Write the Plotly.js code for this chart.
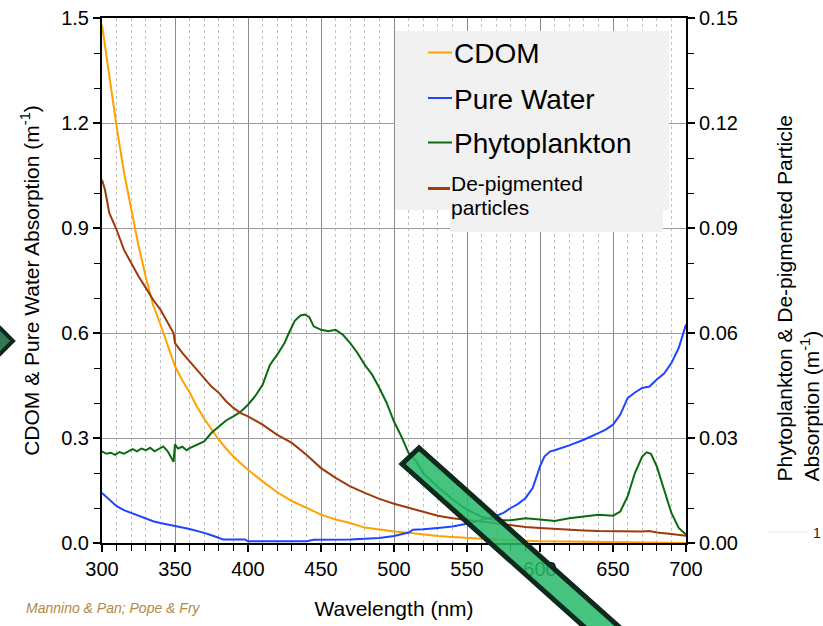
<!DOCTYPE html>
<html>
<head>
<meta charset="utf-8">
<script src="https://cdn.plot.ly/plotly-3.0.1.min.js"></script>
<style>html,body{margin:0;padding:0;background:#fff;}#chart{width:823px;height:626px;}</style>
</head>
<body>
<div id="chart"></div>
<script>
// ---- Data ----
const seriesNames = ['CDOM', 'Pure Water', 'Phytoplankton', 'De-pigmented particles'];

const cdomWl = [300,305,310,315,320,325,330,335,340,345,350,355,360,365,370,375,380,385,390,395,400,410,420,430,440,450,460,470,480,490,500,510,520,530,540,550,560,570,580,590,600,620,640,660,680,700];
const cdomVal = [1.48,1.33,1.19,1.06,0.95,0.85,0.76,0.68,0.625,0.565,0.505,0.465,0.43,0.39,0.355,0.325,0.295,0.27,0.247,0.228,0.209,0.176,0.145,0.12,0.1,0.081,0.067,0.057,0.044,0.038,0.033,0.029,0.024,0.02,0.017,0.014,0.012,0.01,0.008,0.006,0.005,0.004,0.003,0.002,0.001,0.0];

const waterWl = [300,305,310,315,320,325,330,335,340,345,350,355,360,365,370,375,380,383,390,398,400,410,420,430,440,445,450,460,470,480,490,500,505,510,513,520,530,540,550,555,560,565,570,575,580,585,590,595,600,603,607,610,620,630,640,645,650,655,660,665,670,675,680,685,690,695,700];
const waterVal = [0.143,0.125,0.105,0.094,0.086,0.077,0.069,0.062,0.057,0.052,0.048,0.044,0.040,0.035,0.029,0.022,0.014,0.010,0.010,0.010,0.005,0.005,0.005,0.005,0.005,0.009,0.009,0.009,0.010,0.012,0.014,0.020,0.024,0.030,0.038,0.039,0.043,0.047,0.055,0.060,0.066,0.071,0.078,0.086,0.100,0.112,0.128,0.157,0.219,0.247,0.262,0.265,0.279,0.295,0.314,0.324,0.338,0.367,0.414,0.430,0.443,0.447,0.467,0.484,0.514,0.557,0.624];

const phytoWl = [300,303,306,309,312,315,318,321,324,327,330,333,336,339,342,345,347,349,350,352,355,358,360,365,370,375,380,385,390,395,400,405,410,415,420,425,428,432,436,439,442,445,450,455,460,465,470,475,480,485,490,495,500,505,510,515,520,530,540,550,560,570,580,590,600,610,620,630,640,650,655,660,665,670,673,676,680,685,690,695,700];
const phytoVal = [0.0262,0.0255,0.0258,0.0252,0.026,0.0255,0.0262,0.0268,0.0262,0.027,0.0265,0.0272,0.0262,0.027,0.0276,0.0262,0.0248,0.0232,0.0282,0.027,0.0275,0.0265,0.0271,0.028,0.029,0.0315,0.0333,0.035,0.0362,0.0375,0.0395,0.042,0.0452,0.0509,0.0538,0.0571,0.06,0.0635,0.065,0.0653,0.0645,0.0619,0.0609,0.0605,0.0609,0.0595,0.0571,0.0543,0.0509,0.0481,0.0443,0.04,0.0347,0.0305,0.0257,0.0235,0.02,0.016,0.0125,0.0095,0.0075,0.0065,0.0065,0.0071,0.0067,0.0063,0.0071,0.0076,0.0081,0.0078,0.009,0.0133,0.02,0.0247,0.0259,0.0255,0.0219,0.0152,0.0086,0.0043,0.0024];

const depigWl = [300,302,305,310,315,320,325,330,335,340,345,349,350,355,360,365,370,375,380,385,390,395,400,410,420,430,440,450,460,470,480,490,500,510,520,530,540,550,560,570,580,590,600,610,620,630,640,650,660,670,675,680,690,700];
const depigVal = [0.1038,0.101,0.0943,0.0895,0.0838,0.08,0.0762,0.0729,0.0695,0.0667,0.0629,0.06,0.0571,0.0543,0.0519,0.0495,0.0471,0.0447,0.0429,0.0405,0.0386,0.0371,0.0362,0.0338,0.0309,0.0286,0.0252,0.0214,0.0186,0.0162,0.0143,0.0126,0.0112,0.01,0.0088,0.0078,0.0071,0.0066,0.006,0.0055,0.0049,0.0046,0.0043,0.004,0.0038,0.0036,0.0034,0.0033,0.0032,0.0033,0.0034,0.003,0.0026,0.0021];

const leftTicks = [0, 0.3, 0.6, 0.9, 1.2, 1.5];
const rightTicks = [0, 0.03, 0.06, 0.09, 0.12, 0.15];
const xTicks = [300, 350, 400, 450, 500, 550, 600, 650, 700];

// ---- Styling ----
const colors = ['#ffa200', '#1f45ff', '#0b6b12', '#9e3a0b'];
const FONT = 'Liberation Sans, Arial, Helvetica, sans-serif';
const L = 102, T = 18, W = 584, H = 525;
const px = v => (v - L) / W;
const py = v => (T + H - v) / H;

const traces = [
  {x: cdomWl, y: cdomVal, name: seriesNames[0], yaxis: 'y', line: {color: colors[0], width: 2}},
  {x: waterWl, y: waterVal, name: seriesNames[1], yaxis: 'y', line: {color: colors[1], width: 2}},
  {x: phytoWl, y: phytoVal, name: seriesNames[2], yaxis: 'y2', line: {color: colors[2], width: 2}},
  {x: depigWl, y: depigVal, name: seriesNames[3], yaxis: 'y2', line: {color: colors[3], width: 2}}
].map(t => Object.assign({type: 'scatter', mode: 'lines', hoverinfo: 'skip'}, t));

const shapes = [
  // legend background
  {type: 'rect', xref: 'paper', yref: 'paper', x0: px(395), x1: px(669), y0: py(31), y1: py(210), fillcolor: '#f1f1f1', line: {width: 0}, layer: 'above'},
  {type: 'rect', xref: 'paper', yref: 'paper', x0: px(450), x1: px(663), y0: py(209), y1: py(232), fillcolor: '#f1f1f1', line: {width: 0}, layer: 'above'},
  // legend line samples
  {type: 'line', xref: 'paper', yref: 'paper', x0: px(428), x1: px(452), y0: py(52.5), y1: py(52.5), line: {color: colors[0], width: 2}, layer: 'above'},
  {type: 'line', xref: 'paper', yref: 'paper', x0: px(428), x1: px(452), y0: py(98), y1: py(98), line: {color: colors[1], width: 2}, layer: 'above'},
  {type: 'line', xref: 'paper', yref: 'paper', x0: px(428), x1: px(452), y0: py(142.5), y1: py(142.5), line: {color: colors[2], width: 2}, layer: 'above'},
  {type: 'line', xref: 'paper', yref: 'paper', x0: px(428), x1: px(450), y0: py(188.5), y1: py(188.5), line: {color: colors[3], width: 3}, layer: 'above'},
  // decorative green bar overlay
  {type: 'path', xref: 'paper', yref: 'paper', layer: 'above',
   path: 'M' + px(402) + ',' + py(464) + ' L' + px(419) + ',' + py(448) + ' L' + px(645) + ',' + py(650) + ' L' + px(628) + ',' + py(666) + ' Z',
   fillcolor: 'rgba(40,186,106,0.86)', line: {color: '#0e2a1c', width: 5}},
  // decorative diamond at left edge
  {type: 'path', xref: 'paper', yref: 'paper', layer: 'above',
   path: 'M' + px(0) + ',' + py(328) + ' L' + px(13) + ',' + py(341) + ' L' + px(0) + ',' + py(354) + ' L' + px(-13) + ',' + py(341) + ' Z',
   fillcolor: '#2f7a52', line: {color: '#10261a', width: 4}},
  // faint line near the "1" at right
  {type: 'line', xref: 'paper', yref: 'paper', x0: px(767), x1: px(808), y0: py(532), y1: py(532), line: {color: '#ececec', width: 1}, layer: 'above'}
];

const annotations = [
  {text: seriesNames[0], x: px(452), y: py(53.3), xanchor: 'left', yanchor: 'middle', font: {size: 28, color: '#000'}},
  {text: seriesNames[1], x: px(452), y: py(99.3), xanchor: 'left', yanchor: 'middle', font: {size: 28, color: '#000'}},
  {text: seriesNames[2], x: px(452), y: py(143.3), xanchor: 'left', yanchor: 'middle', font: {size: 28, color: '#000'}},
  {text: 'De-pigmented', x: px(449), y: py(183.7), xanchor: 'left', yanchor: 'middle', font: {size: 21, color: '#000'}},
  {text: 'particles', x: px(449), y: py(207.7), xanchor: 'left', yanchor: 'middle', font: {size: 21, color: '#000'}},
  {text: 'Phytoplankton & De-pigmented Particle<br>Absorption (m<sup>-1</sup>)', textangle: -90, align: 'left',
   x: px(797), y: py(298.5), xanchor: 'center', yanchor: 'middle', font: {size: 21, color: '#000'}},
  {text: '<i>Mannino & Pan; Pope & Fry</i>', x: px(24), y: py(608), xanchor: 'left', yanchor: 'middle', font: {size: 14, color: '#b08a44'}},
  {text: '1', x: px(817), y: py(533), xanchor: 'center', yanchor: 'middle', font: {size: 14, color: '#222'}}
].map(a => Object.assign({xref: 'paper', yref: 'paper', showarrow: false}, a));

const layout = {
  width: 823, height: 626,
  margin: {l: L, r: 823 - L - W, t: T, b: 626 - T - H, pad: 0},
  paper_bgcolor: '#fff', plot_bgcolor: '#fff',
  font: {family: FONT, color: '#000', size: 20},
  showlegend: false,
  xaxis: {
    range: [300, 700], tickmode: 'array', tickvals: xTicks, ticktext: xTicks.map(String),
    ticks: 'outside', ticklen: 7, tickwidth: 1.5, tickcolor: '#000',
    showline: true, linecolor: '#000', linewidth: 2, mirror: true,
    showgrid: true, gridcolor: '#8a8a8a', gridwidth: 1, zeroline: false,
    tickfont: {size: 20},
    minor: {dtick: 10, tick0: 300, ticks: 'outside', ticklen: 6, tickcolor: '#000', tickwidth: 1,
            showgrid: true, gridcolor: '#c2c2c2', griddash: 'dot', gridwidth: 1},
    title: {text: 'Wavelength (nm)', font: {size: 21}, standoff: 22}
  },
  yaxis: {
    range: [0, 1.5], tickmode: 'array', tickvals: leftTicks, ticktext: leftTicks.map(v => v.toFixed(1)),
    ticks: 'outside', ticklen: 7, tickwidth: 1.5, tickcolor: '#000',
    showline: true, linecolor: '#000', linewidth: 2, mirror: true,
    showgrid: true, gridcolor: '#9a9a9a', gridwidth: 1, zeroline: false,
    tickfont: {size: 20},
    minor: {dtick: 0.1, tick0: 0, ticks: 'outside', ticklen: 6, tickcolor: '#000', tickwidth: 1, showgrid: false},
    title: {text: 'CDOM & Pure Water Absorption (m<sup>-1</sup>)', font: {size: 21}, standoff: 16}
  },
  yaxis2: {
    overlaying: 'y', side: 'right', range: [0, 0.15],
    tickmode: 'array', tickvals: rightTicks, ticktext: rightTicks.map(v => v.toFixed(2)),
    ticks: 'outside', ticklen: 7, tickwidth: 1.5, tickcolor: '#000',
    showline: true, linecolor: '#000', linewidth: 2,
    showgrid: false, zeroline: false, tickfont: {size: 20},
    minor: {dtick: 0.01, tick0: 0, ticks: 'outside', ticklen: 6, tickcolor: '#000', tickwidth: 1, showgrid: false}
  },
  shapes: shapes,
  annotations: annotations
};

Plotly.newPlot('chart', traces, layout, {staticPlot: true, displayModeBar: false});
</script>
</body>
</html>
